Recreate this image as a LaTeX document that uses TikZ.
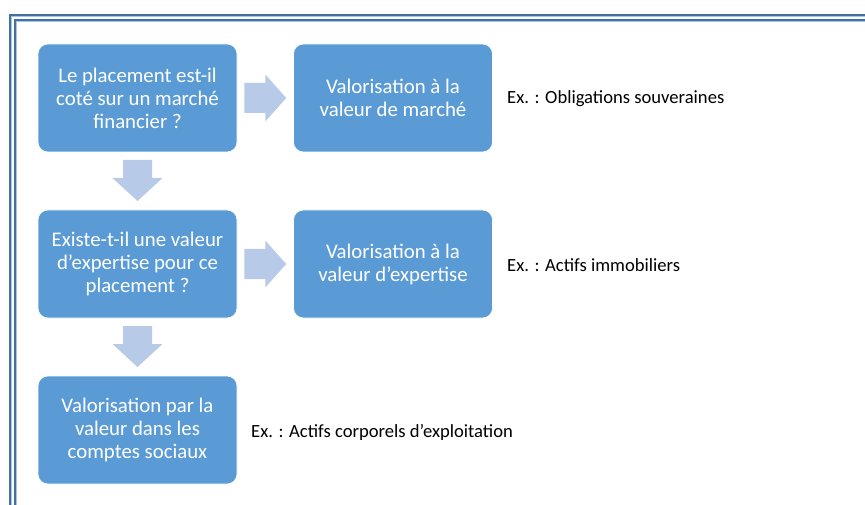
\documentclass[tikz,border=0pt]{standalone}
\usepackage{fontspec}
\setmainfont{Carlito}
\usetikzlibrary{calc}
\definecolor{boxblue}{HTML}{5B9BD5}
\definecolor{arrowblue}{HTML}{B7CBE8}
\definecolor{framedark}{HTML}{41719C}
\definecolor{framelight}{HTML}{A9C4E2}
\begin{document}
\begin{tikzpicture}[x=1pt,y=-1pt,
  box/.style={rounded corners=10pt, fill=boxblue, draw=white, line width=0.6pt,
    minimum width=199pt, minimum height=108pt, inner sep=0pt,
    text=white, align=center, font=\fontsize{20.8}{23}\selectfont},
  exlabel/.style={anchor=west, inner sep=0pt, text=black, font=\fontsize{18.6}{21}\selectfont},
  blockarrow/.style={fill=arrowblue, draw=none},
  framel/.style={draw=framedark, line width=2.2pt},
  framell/.style={draw=framelight, line width=1.2pt}]
\useasboundingbox (0,0) rectangle (865,505);
\fill[white] (0,0) rectangle (865,505);
% frame
\draw[framel] (10,530) -- (10,15) -- (900,15);
\draw[framell] (11.8,530) -- (11.8,16.8) -- (900,16.8);
\draw[framel] (15,530) -- (15,20) -- (900,20);
\draw[framell] (16.8,530) -- (16.8,21.8) -- (900,21.8);
% boxes
\node[box] (q1) at (137.5,98) {Le placement est-il\\coté sur un marché\\financier ?};
\node[box] (v1) at (393,98) {Valorisation à la\\valeur de marché};
\node[box] (q2) at (137.5,264) {Existe-t-il une valeur\\d’expertise pour ce\\placement ?};
\node[box] (v2) at (393,264) {Valorisation à la\\valeur d’expertise};
\node[box] (v3) at (137.5,430) {Valorisation par la\\valeur dans les\\comptes sociaux};
% labels
\node[exlabel] (e1) at (507,99) {Ex. : Obligations souveraines};
\node[exlabel] (e2) at (507,265) {Ex. : Actifs immobiliers};
\node[exlabel] (e3) at (251,432) {Ex. : Actifs corporels d’exploitation};
% right arrows
\coordinate (r1) at ($(q1.east)!0.5!(v1.west)$);
\coordinate (r2) at ($(q2.east)!0.5!(v2.west)$);
\foreach \c in {r1,r2}{
  \fill[blockarrow] ($(\c)+(-21,-15)$) -- ++(21,0) -- ++(0,-8.5) -- ++(21,23.5)
    -- ++(-21,23.5) -- ++(0,-8.5) -- ++(-21,0) -- cycle;
}
% down arrows
\coordinate (d1) at ($(q1.south)!0.5!(q2.north)$);
\coordinate (d2) at ($(q2.south)!0.5!(v3.north)$);
\foreach \c in {d1,d2}{
  \fill[blockarrow] ($(\c)+(-14.5,-21)$) -- ++(29,0) -- ++(0,18) -- ++(10.5,0)
    -- ++(-25,23) -- ++(-25,-23) -- ++(10.5,0) -- cycle;
}
\end{tikzpicture}
\end{document}
